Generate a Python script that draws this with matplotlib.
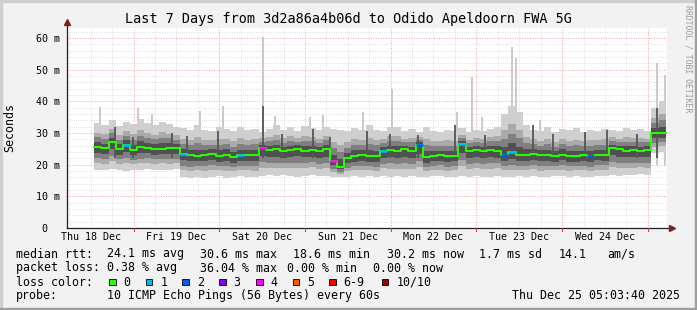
import matplotlib
matplotlib.use("Agg")
import matplotlib.pyplot as plt
import numpy as np
from matplotlib.patches import Rectangle
from matplotlib.transforms import ScaledTranslation

W, H = 697, 310

# time in hours since Thu 18 Dec 00:00, one value per 2 h bin
t_bins = np.arange(13, 173, 2)
median = [25.7, 25.2, 27.2, 25.0, 26.2, 24.7, 25.6, 25.4, 25.0, 25.1, 25.3, 25.2,
          23.4, 23.0, 22.8, 23.2, 23.5, 22.6, 23.2, 22.4, 23.0, 22.9, 23.1, 25.2,
          24.6, 24.8, 24.3, 24.6, 25.0, 24.4, 24.6, 24.2, 24.8, 21.1,
          19.4, 22.0, 22.7, 23.0, 22.6, 22.8, 24.2, 24.6,
          24.4, 24.8, 24.2, 26.2, 22.3, 22.8, 23.0, 22.6, 22.8, 26.5, 24.4, 24.6,
          24.3, 24.6, 24.4, 23.0, 24.0, 23.0, 23.2, 23.4, 23.0, 22.9, 22.6, 23.2,
          22.8, 22.6, 23.0, 22.6, 23.2, 23.0, 25.2, 24.8, 24.4, 24.6, 24.3, 24.6,
          30.0, 30.0]
loss = [0, 0, 0, 0, 1, 0, 0, 0, 0, 0, 0, 0,
        1, 0, 0, 0, 0, 0, 0, 0, 1, 0, 0, 4,
        0, 0, 0, 0, 0, 0, 0, 0, 0, 4,
        0, 0, 0, 0, 0, 0, 1, 0,
        0, 0, 0, 2, 0, 0, 0, 0, 0, 1, 0, 0,
        0, 0, 0, 2, 1, 0, 0, 0, 0, 0, 0, 0,
        0, 0, 0, 2, 0, 0, 0, 0, 0, 0, 0, 0,
        0, 0]
smoke_lo = [18.4, 18.2, 18.5, 18.3, 18.0, 18.4, 18.2, 18.5, 18.3, 18.4, 18.2, 18.6,
            16.0, 15.8, 16.2, 15.9, 16.1, 16.3, 15.9, 16.0, 16.4, 16.2, 16.0, 16.3,
            16.6, 16.3, 16.7, 16.4, 16.2, 16.5, 16.8, 16.3, 16.5, 16.2,
            16.0, 16.2, 16.4, 16.1, 16.3, 16.0, 16.5, 16.2,
            16.3, 16.0, 16.4, 16.2, 16.1, 16.3, 16.5, 16.0, 16.2, 16.4, 16.1, 16.3,
            16.0, 16.2, 16.4, 16.2, 16.0, 16.3, 16.1, 16.4, 16.0, 16.2, 16.5, 16.3,
            16.1, 16.4, 16.2, 16.0, 16.3, 16.5, 16.7, 16.5, 16.8, 16.6, 16.9, 16.7,
            23.8, 24.0]
smoke_hi = [33.0, 32.5, 34.0, 32.2, 33.5, 32.8, 34.5, 33.0, 32.4, 33.6, 32.8, 32.0,
            31.5, 30.8, 32.6, 31.0, 30.5, 32.0, 31.2, 30.6, 31.8, 30.9, 31.3, 30.4,
            31.4, 32.5, 31.0, 31.8, 30.7, 32.2, 31.5, 30.9, 32.0, 31.2,
            31.0, 30.5, 31.6, 30.8, 32.4, 31.0, 30.6, 31.8,
            32.0, 30.5, 31.2, 30.4, 31.8, 30.6, 30.2, 31.0, 30.7, 31.5, 30.3, 31.1,
            30.5, 31.4, 32.0, 36.0, 38.5, 36.5, 32.5, 31.0, 30.6, 31.8, 30.4, 31.2,
            30.8, 31.5, 30.3, 31.0, 30.6, 31.4, 31.0, 30.5, 31.6, 30.8, 31.2, 30.7,
            38.0, 40.0]
spike_t = [14.6, 25.3, 29.2, 42.6, 49.1, 60.3, 63.6, 73.4, 77.1, 88.3, 96.4,
           114.6, 118.8, 121.6, 130.0, 131.1, 137.8, 170.6, 172.8]
spike_top = [38.2, 38.0, 36.0, 37.0, 38.6, 60.4, 35.3, 35.0, 35.6, 36.5, 44.0,
             36.6, 47.8, 35.0, 57.2, 53.6, 34.0, 52.0, 48.3]
streak_t = [18.8, 23.9, 34.8, 39.0, 47.7, 60.3, 65.6, 74.3, 79.0, 89.4, 95.8,
            103.7, 114.0, 122.4, 135.9, 141.5, 150.4, 156.6, 165.0, 170.6]
streak_top = [32.0, 28.6, 30.0, 28.9, 30.7, 38.5, 29.7, 31.2, 28.6, 30.5, 29.8,
              29.5, 32.5, 29.5, 32.4, 29.8, 30.2, 30.8, 29.8, 38.0]

day_ticks = [12, 36, 60, 84, 108, 132, 156]
day_labels = ["Thu 18 Dec", "Fri 19 Dec", "Sat 20 Dec", "Sun 21 Dec",
              "Mon 22 Dec", "Tue 23 Dec", "Wed 24 Dec"]
ytick_vals = [0, 10, 20, 30, 40, 50, 60]
ytick_labels = ["0", "10 m", "20 m", "30 m", "40 m", "50 m", "60 m"]
loss_labels = ["0", "1", "2", "3", "4", "5", "6-9", "10/10"]
loss_colors = ["#26ff00", "#00b8ff", "#0059ff", "#7e00ff", "#ff00ff",
               "#ff5500", "#ff0000", "#a10000"]

MONO = "DejaVu Sans Mono"
plt.rcParams["font.family"] = MONO

fig = plt.figure(figsize=(W / 100, H / 100), dpi=100, facecolor="#f2f2f2")
ax = fig.add_axes([67 / W, 82 / H, 600 / W, 200 / H])
ax.set_facecolor("white")
ax.set_xlim(5.38, 173.38)
ax.set_ylim(0, 200 / 3.1667)
for s in ax.spines.values():
    s.set_visible(False)

# grid, rrdtool style dotted lines
dots = (0, (1, 1.6))
for h in range(6, 174, 6):
    if h % 24:
        ax.axvline(h, color="#d6d6d6", lw=0.6, ls=dots, zorder=0)
for v in range(2, 64, 2):
    if v % 10:
        ax.axhline(v, color="#d6d6d6", lw=0.6, ls=dots, zorder=0)
for h in range(24, 174, 24):
    ax.axvline(h, color="#eda4a4", lw=0.7, ls=dots, zorder=0.5)
for v in range(10, 61, 10):
    ax.axhline(v, color="#eda4a4", lw=0.7, ls=dots, zorder=0.5)

# smoke
edges = np.append(t_bins, t_bins[-1] + 2)
med = np.array(median)
lo = np.array(smoke_lo)
hi = np.array(smoke_hi)
ext = lambda a: np.append(a, a[-1])

ax.vlines(spike_t, 20, spike_top, color="#c6c6c6", lw=1.3, zorder=1)
layers = [
    (lo, hi, "#cfcfcf"),
    (lo + 0.3 * (med - lo), med + 0.6 * (hi - med), "#aaaaaa"),
    (med - 0.5 * (med - lo), med + 0.4 * (hi - med), "#808080"),
    (med - 0.27 * (med - lo), med + 0.2 * (hi - med), "#505050"),
]
for z, (a, b, c) in enumerate(layers):
    ax.fill_between(edges, ext(a), ext(b), step="post", color=c, lw=0, zorder=2 + z * 0.1)
ax.vlines(streak_t, 22, streak_top, color="#555555", lw=1.3, zorder=2.5)

# median coloured by loss
ax.step(edges, ext(med), where="post", color=loss_colors[0], lw=1.4, zorder=3)
for t, m, l in zip(t_bins, median, loss):
    if l:
        ax.hlines(m, t, t + 2, color=loss_colors[l], lw=1.8, zorder=3.2)

# axes with arrows
ax.plot([0, 1.006], [0, 0], transform=ax.transAxes, color="#1f1f1f", lw=0.9, clip_on=False, zorder=4)
ax.plot([0, 0], [0, 1.02], transform=ax.transAxes, color="#1f1f1f", lw=0.9, clip_on=False, zorder=4)
ax.plot([1.008], [0], transform=ax.transAxes, marker=">", ms=4.5, color="#801f1f", clip_on=False, zorder=4)
ax.plot([0], [1.03], transform=ax.transAxes, marker="^", ms=4.5, color="#801f1f", clip_on=False, zorder=4)
for h in range(24, 174, 24):
    ax.plot([h, h], [0, -0.8], color="#d04040", lw=0.8, clip_on=False, zorder=4)

ax.set_xticks(day_ticks)
ax.set_xticklabels(day_labels, fontsize=7.2)
ax.set_yticks(ytick_vals)
ax.set_yticklabels(ytick_labels, fontsize=7.2)
ax.tick_params(axis="x", length=0, pad=3.2)
ax.tick_params(axis="y", length=0, pad=5)
zero = ax.get_yticklabels()[0]
zero.set_transform(zero.get_transform() + ScaledTranslation(-0.13, 0, fig.dpi_scale_trans))


def ftext(x, y, s, **kw):
    kw.setdefault("fontsize", 8.4)
    kw.setdefault("va", "baseline")
    return fig.text(x / W, 1 - y / H, s, **kw)


ftext(348.5, 23.3, "Last 7 Days from 3d2a86a4b06d to Odido Apeldoorn FWA 5G",
      ha="center", fontsize=9.75)
ftext(10, 128, "Seconds", rotation=90, ha="center", va="center")
ftext(688, 5, "RRDTOOL / TOBI OETIKER", rotation=270, ha="center", va="top",
      fontsize=5.9, color="#9a9a9a")

rows = [
    (257.5, [(16, "median rtt:"), (107.3, "24.1 ms avg"), (200, "30.6 ms max"),
             (293.3, "18.6 ms min"), (386.7, "30.2 ms now"), (479.3, "1.7 ms sd"),
             (558.3, "14.1"), (607.3, "am/s")]),
    (271.5, [(16, "packet loss:"), (107.3, "0.38 % avg"), (200, "36.04 % max"),
             (286.7, "0.00 % min"), (372.7, "0.00 % now")]),
    (285.5, [(16, "loss color:")]),
    (299, [(16, "probe:"), (107.3, "10 ICMP Echo Pings (56 Bytes) every 60s")]),
]
for y, items in rows:
    for x, s in items:
        ftext(x, y, s)
ftext(680, 299, "Thu Dec 25 05:03:40 2025", ha="right")

box_x = [109, 145.7, 182.4, 219.1, 255.8, 292.5, 329.2, 381.7]
for bx, lab, col in zip(box_x, loss_labels, loss_colors):
    fig.patches.append(Rectangle((bx / W, 1 - 285.3 / H), 6.7 / W, 6.7 / H,
                                 transform=fig.transFigure, facecolor=col,
                                 edgecolor="black", lw=0.6))
    ftext(bx + 14.5, 285.5, lab)

# 3d border
fig.patches.append(Rectangle((0, 1 - 2 / H), 1, 2 / H, transform=fig.transFigure, color="#cfcfcf"))
fig.patches.append(Rectangle((0, 0), 2 / W, 1, transform=fig.transFigure, color="#cfcfcf"))
fig.patches.append(Rectangle((0, 0), 1, 2 / H, transform=fig.transFigure, color="#9e9e9e"))
fig.patches.append(Rectangle((1 - 2 / W, 0), 2 / W, 1, transform=fig.transFigure, color="#9e9e9e"))

fig.savefig("out.png", dpi=100, facecolor=fig.get_facecolor())
